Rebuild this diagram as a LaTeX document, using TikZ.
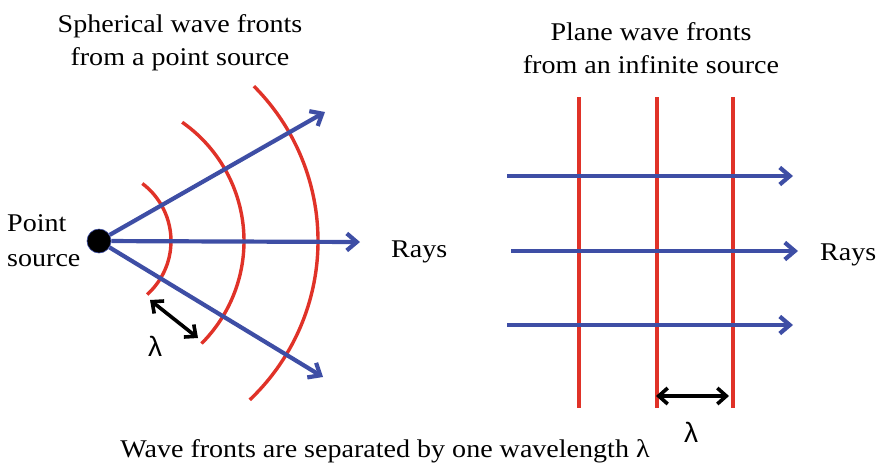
\documentclass[tikz,border=0pt]{standalone}
\usepackage{fontspec}
\setmainfont{Liberation Serif}[FakeStretch=1.1]
\newfontfamily\lamfont{Liberation Sans}
\usepackage{xcolor}
\usetikzlibrary{arrows.meta,positioning}

\definecolor{rayblue}{RGB}{62,78,165}
\definecolor{frontred}{RGB}{224,50,40}

\begin{document}
\begin{tikzpicture}[
    x=1pt, y=-1pt,
    title/.style={font=\fontsize{25.5}{33}\selectfont, align=center, inner sep=0pt, anchor=base},
    label/.style={font=\fontsize{25.5}{35}\selectfont, align=left, inner sep=0pt},
    lam/.style={font=\lamfont\fontsize{28}{28}\selectfont, inner sep=0pt},
    source/.style={circle, fill=black, draw=rayblue, line width=0.6pt, minimum size=24pt, inner sep=0pt},
    ray/.style={draw=rayblue, line width=4.2pt, -{Straight Barb[length=10pt, width=17pt]}},
    front/.style={draw=frontred, line width=3.4pt},
    gap/.style={draw=black, line width=3.6pt, {Straight Barb[length=9pt, width=16pt]}-{Straight Barb[length=9pt, width=16pt]}}
]
    \useasboundingbox (0,0) rectangle (880,472);

    % titles and texts
    \node [title] (sphtitle) at (180,65) {Spherical wave fronts\\from a point source};
    \node [title] (plntitle) at (651,73) {Plane wave fronts\\from an infinite source};
    \node [label, anchor=base west] (srclabel) at (7,266) {Point\\source};
    \node [label, anchor=base west] (rays1) at (391,257) {Rays};
    \node [label, anchor=base west] (rays2) at (820,260) {Rays};
    \node [label, anchor=base] (caption) at (385,457) {Wave fronts are separated by one wavelength λ};

    % spherical waves
    \node [source] (src) at (99,241) {};
    \coordinate (ru) at (325,112);
    \coordinate (rm) at (360,242);
    \coordinate (rd) at (323,377);
    \draw [front] (src.center) ++(-53:72) arc[start angle=-53, end angle=48, radius=72];
    \draw [front] (src.center) ++(-55:145) arc[start angle=-55, end angle=45, radius=145];
    \draw [front] (src.center) ++(-45:219) arc[start angle=-45, end angle=46.5, radius=219];
    \draw [ray] (src) -- (ru);
    \draw [ray] (src) -- (rm);
    \draw [ray] (src) -- (rd);

    \coordinate (la1) at (150,300);
    \coordinate (la2) at (198,338);
    \draw [gap] (la1) -- (la2);
    \node [lam] (lam1) at (155,346) {λ};

    % plane waves
    \coordinate (w1t) at (579,97);  \coordinate (w1b) at (579,408);
    \coordinate (w2t) at (657,97);  \coordinate (w2b) at (657,408);
    \coordinate (w3t) at (733,97);  \coordinate (w3b) at (733,408);
    \draw [front] (w1t) -- (w1b);
    \draw [front] (w2t) -- (w2b);
    \draw [front] (w3t) -- (w3b);

    \coordinate (p1s) at (507,176); \coordinate (p1e) at (793,176);
    \coordinate (p2s) at (511,251); \coordinate (p2e) at (798,251);
    \coordinate (p3s) at (507,325); \coordinate (p3e) at (793,325);
    \draw [ray] (p1s) -- (p1e);
    \draw [ray] (p2s) -- (p2e);
    \draw [ray] (p3s) -- (p3e);

    \coordinate (lb1) at (656,396);
    \coordinate (lb2) at (729,396);
    \draw [gap] (lb1) -- (lb2);
    \node [lam] (lam2) at (691,432) {λ};
\end{tikzpicture}
\end{document}
